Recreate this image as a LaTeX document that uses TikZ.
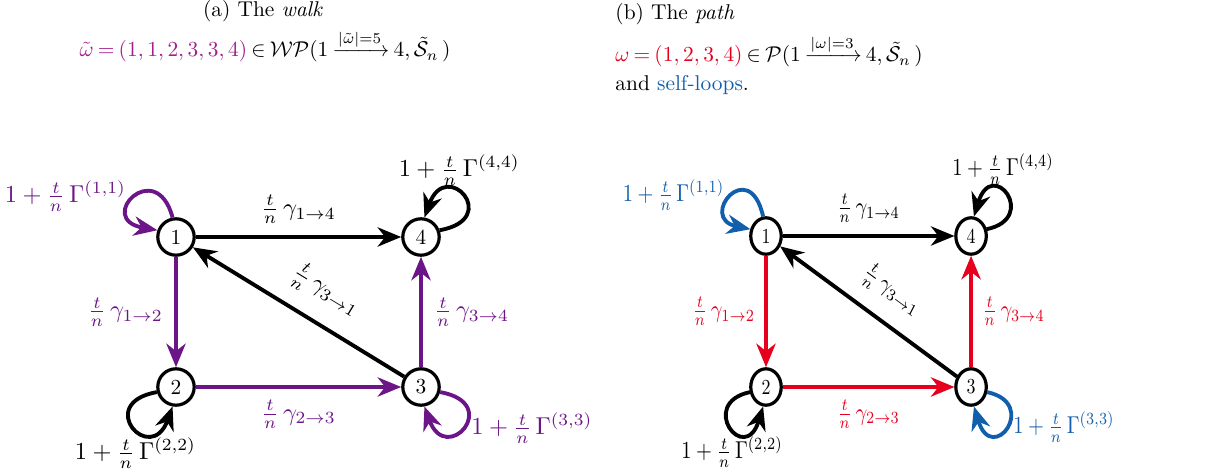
\documentclass[tikz,border=0pt]{standalone}
\usepackage{amsmath}
\usetikzlibrary{arrows.meta}
\definecolor{wpurp}{RGB}{108,21,136}
\definecolor{wmag}{RGB}{163,29,141}
\definecolor{pred}{RGB}{230,0,30}
\definecolor{pblue}{RGB}{16,94,172}
\tikzset{
 vtx/.style={circle,draw,line width=1.5pt,minimum size=17pt,inner sep=0pt},
 edg/.style={line width=1.8pt,-{Stealth[length=11pt,width=9pt,inset=3.5pt]}},
 lbl/.style={scale=1.14,inner sep=1.5pt},
 ttl/.style={inner sep=0pt}
}
\begin{document}
\begin{tikzpicture}[x=0.467pt,y=0.467pt]
\useasboundingbox (0,0) rectangle (1222,-475);
% titles
\node[ttl,anchor=base] (ta) at (263,-17) {(a) The \emph{walk}};
\node[ttl,anchor=base] (fa) at (265,-57) {$\thickmuskip=3.5mu{\color{wmag}\tilde\omega=(1,1,2,3,3,4)}\in\mathcal{WP}(1\xrightarrow{|\tilde\omega|=5}4,\tilde{\mathcal S}_n\,)$};
\node[ttl,anchor=base west] (tb) at (615,-20) {(b) The \emph{path}};
\node[ttl,anchor=base west] (fb) at (615,-62) {$\thickmuskip=3.5mu{\color{pred}\omega=(1,2,3,4)}\in\mathcal{P}(1\xrightarrow{|\omega|=3}4,\tilde{\mathcal S}_n\,)$};
\node[ttl,anchor=base west] (sb) at (615,-91) {and {\color{pblue}self-loops}.};
% left graph
\begin{scope}[shift={(176,-237)}]
\node[vtx] (a1) at (0,0) {1};
\node[vtx] (a4) at (245,0) {4};
\node[vtx] (a2) at (0,-150) {2};
\node[vtx] (a3) at (245,-150) {3};
\draw[edg] (a1) -- node[lbl,above=3pt]{$\frac{t}{n}\,\gamma_{1\to4}$} (a4);
\draw[edg,wpurp] (a1) -- node[lbl,left=3pt]{$\frac{t}{n}\,\gamma_{1\to2}$} (a2);
\draw[edg,wpurp] (a2) -- node[lbl,below=3pt]{$\frac{t}{n}\,\gamma_{2\to3}$} (a3);
\draw[edg,wpurp] (a3) -- node[lbl,right=3pt]{$\frac{t}{n}\,\gamma_{3\to4}$} (a4);
\draw[edg] (a3) -- node[lbl,sloped,above=5pt,pos=0.45]{$\frac{t}{n}\,\gamma_{3\to1}$} (a1);
\draw[edg,wpurp] (a1.100) .. controls +(105:64) and +(170:64) .. (a1.160);
\draw[edg] (a4.20) .. controls +(10:64) and +(70:64) .. (a4.80);
\draw[edg] (a2.195) .. controls +(190:64) and +(-110:64) .. (a2.-100);
\draw[edg,wpurp] (a3.-15) .. controls +(-10:64) and +(-70:64) .. (a3.-80);
\node[lbl,wpurp] (la1) at (-110.5,41) {$1+\frac{t}{n}\,\Gamma^{(1,1)}$};
\node[lbl] (la4) at (283.3,67) {$1+\frac{t}{n}\,\Gamma^{(4,4)}$};
\node[lbl] (la2) at (-40.5,-216) {$1+\frac{t}{n}\,\Gamma^{(2,2)}$};
\node[lbl,wpurp] (la3) at (356,-191) {$1+\frac{t}{n}\,\Gamma^{(3,3)}$};
\end{scope}
% right graph
\begin{scope}[shift={(766,-236)},xscale=0.837,transform shape]
\node[vtx] (b1) at (0,0) {1};
\node[vtx] (b4) at (245,0) {4};
\node[vtx] (b2) at (0,-151) {2};
\node[vtx] (b3) at (245,-151) {3};
\draw[edg] (b1) -- node[lbl,above=3pt]{$\frac{t}{n}\,\gamma_{1\to4}$} (b4);
\draw[edg,pred] (b1) -- node[lbl,left=3pt]{$\frac{t}{n}\,\gamma_{1\to2}$} (b2);
\draw[edg,pred] (b2) -- node[lbl,below=3pt]{$\frac{t}{n}\,\gamma_{2\to3}$} (b3);
\draw[edg,pred] (b3) -- node[lbl,right=3pt]{$\frac{t}{n}\,\gamma_{3\to4}$} (b4);
\draw[edg] (b3) -- node[lbl,sloped,above=5pt,pos=0.45]{$\frac{t}{n}\,\gamma_{3\to1}$} (b1);
\draw[edg,pblue] (b1.100) .. controls +(105:64) and +(170:64) .. (b1.160);
\draw[edg] (b4.20) .. controls +(10:64) and +(70:64) .. (b4.80);
\draw[edg] (b2.195) .. controls +(190:64) and +(-110:64) .. (b2.-100);
\draw[edg,pblue] (b3.-15) .. controls +(-10:64) and +(-70:64) .. (b3.-80);
\node[lbl,pblue] (lb1) at (-110.5,41) {$1+\frac{t}{n}\,\Gamma^{(1,1)}$};
\node[lbl] (lb4) at (283.3,67) {$1+\frac{t}{n}\,\Gamma^{(4,4)}$};
\node[lbl] (lb2) at (-40.5,-216) {$1+\frac{t}{n}\,\Gamma^{(2,2)}$};
\node[lbl,pblue] (lb3) at (356,-191) {$1+\frac{t}{n}\,\Gamma^{(3,3)}$};
\end{scope}
\end{tikzpicture}
\end{document}
